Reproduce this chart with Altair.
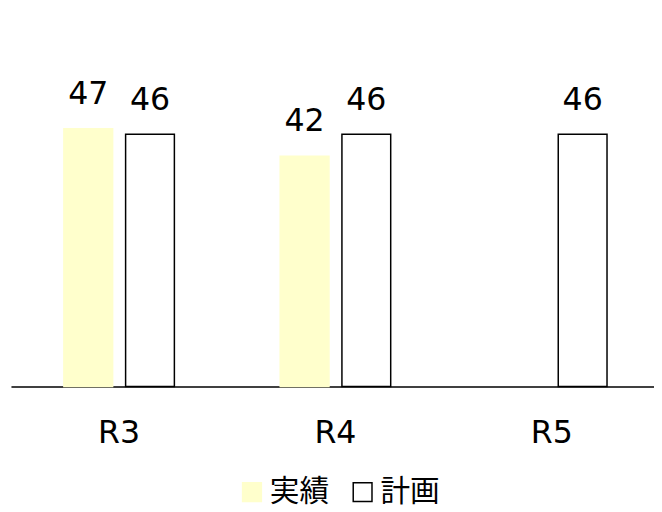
import altair as alt
import pandas as pd

periods = ["R3", "R4", "R5"]
actual = [47, 42, None]
plan = [46, 46, 46]
series = ["実績", "計画"]
fill_colors = ["#FFFFCC", "#FFFFFF"]
stroke_colors = ["#FFFFCC", "#000000"]

rows = []
for p, a, b in zip(periods, actual, plan):
    if a is not None:
        rows.append({"period": p, "series": series[0], "value": a})
    if b is not None:
        rows.append({"period": p, "series": series[1], "value": b})
df = pd.DataFrame(rows)

x = alt.X(
    "period:N",
    sort=periods,
    scale=alt.Scale(domain=periods, paddingInner=0, paddingOuter=0),
    axis=alt.Axis(
        title=None, labelAngle=0, ticks=False, grid=False,
        domainColor="black", domainWidth=1.5,
        labelFontSize=32, labelFont="DejaVu Sans", labelColor="black",
        labelPadding=32,
    ),
)
xo = alt.XOffset(
    "series:N", sort=series,
    scale=alt.Scale(domain=series, paddingInner=0.21, paddingOuter=0.857),
)
y = alt.Y("value:Q", scale=alt.Scale(domain=[0, 60], nice=False), axis=None)

legend = alt.Legend(
    title=None, orient="none", legendX=229, legendY=425, direction="horizontal",
    symbolType="square", symbolSize=361, symbolStrokeWidth=1.5,
    labelFontSize=30, labelFont="Noto Sans CJK JP", labelColor="black",
    labelOffset=3, columnPadding=19, padding=0,
)

base = alt.Chart(df).encode(x=x, xOffset=xo, y=y)
bars = base.mark_bar(strokeWidth=1.5).encode(
    fill=alt.Fill("series:N", sort=series,
                  scale=alt.Scale(domain=series, range=fill_colors), legend=legend),
    stroke=alt.Stroke("series:N", sort=series,
                      scale=alt.Scale(domain=series, range=stroke_colors), legend=legend),
)
text = base.mark_text(
    baseline="alphabetic", dy=-25, fontSize=32, font="DejaVu Sans", color="black"
).encode(text="value:Q")

chart = (bars + text).properties(
    width=657, height=333,
    padding={"left": 3, "top": 47, "right": -6, "bottom": 124},
    autosize=alt.AutoSizeParams(type="none"),
).configure_view(stroke=None)

chart.save("out.html", embed_options={"renderer": "svg", "actions": False})
